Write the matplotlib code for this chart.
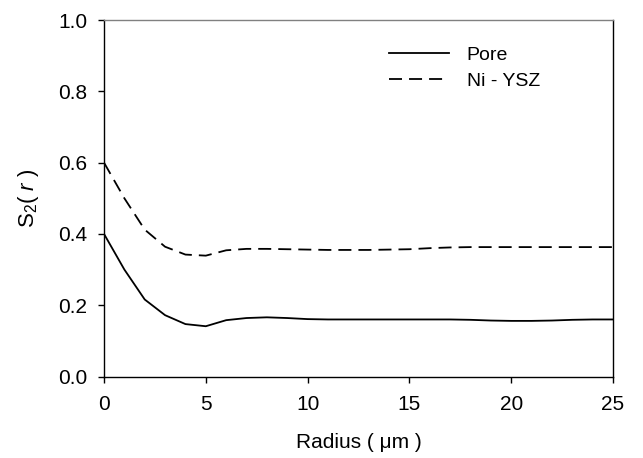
import matplotlib
matplotlib.use("Agg")
import matplotlib.pyplot as plt

plt.rcParams['font.family'] = ['Liberation Sans', 'DejaVu Sans']
plt.rcParams['mathtext.fontset'] = 'custom'
plt.rcParams['mathtext.rm'] = 'Liberation Sans'
plt.rcParams['mathtext.it'] = 'Liberation Sans:italic'

radius = [0, 1, 2, 3, 4, 5, 6, 7, 8, 9, 10, 11, 12, 13, 14, 15, 16, 17, 18, 19, 20, 21, 22, 23, 24, 25]
pore = [0.400, 0.300, 0.216, 0.172, 0.147, 0.141, 0.158, 0.164, 0.166, 0.164, 0.161, 0.160, 0.160,
        0.160, 0.160, 0.160, 0.160, 0.160, 0.159, 0.157, 0.156, 0.156, 0.157, 0.159, 0.160, 0.160]
ni_ysz = [0.600, 0.500, 0.412, 0.364, 0.342, 0.339, 0.354, 0.358, 0.358, 0.357, 0.356, 0.355, 0.355,
          0.355, 0.356, 0.357, 0.360, 0.362, 0.363, 0.363, 0.363, 0.363, 0.363, 0.363, 0.363, 0.363]

xticks = [0, 5, 10, 15, 20, 25]
yticks = [0.0, 0.2, 0.4, 0.6, 0.8, 1.0]

fig = plt.figure(figsize=(6.43, 4.58), dpi=100)
ax = fig.add_axes([104/643, 1-376.5/458, (613-104)/643, (376.5-20)/458])

ax.plot(radius, pore, color='black', lw=1.3, label='Pore')
ax.plot(radius, ni_ysz, color='black', lw=1.3, dashes=(7.2, 3.9), label='Ni - YSZ')

ax.set_xlim(0, 25)
ax.set_ylim(0, 1.0)
ax.set_xticks(xticks)
ax.set_yticks(yticks)
ax.set_yticklabels([f"{v:.1f}" for v in yticks])
ax.tick_params(direction='out', length=4, width=1, labelsize=15, color='black')
ax.tick_params(axis='x', pad=9)
ax.tick_params(axis='y', pad=8)

for s in ['left', 'bottom', 'right']:
    ax.spines[s].set_linewidth(1.0)
    ax.spines[s].set_color('black')
ax.spines['top'].set_color('#808080')
ax.spines['top'].set_linewidth(1.0)

ax.set_xlabel('Radius ( μm )', fontsize=15, labelpad=14)
ax.set_ylabel(r'S$_2$( $r$ )', fontsize=16, labelpad=12)

leg = ax.legend(loc='upper left', bbox_to_anchor=(389/643, 1-46/458), bbox_transform=fig.transFigure,
                frameon=False, fontsize=14, handlelength=3.1, handletextpad=0.9, labelspacing=0.45,
                borderaxespad=0, borderpad=0)

fig.savefig('out.png', dpi=100)
